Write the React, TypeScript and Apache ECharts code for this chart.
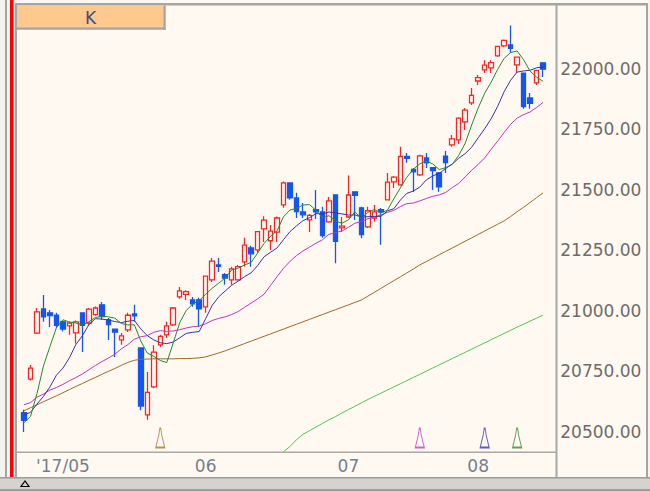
import React, { useEffect, useRef } from "react";
import * as echarts from "echarts";

// Trading days shown (2017)
const dates = [
  "04/21","04/24","04/25","04/26","04/27","04/28",
  "05/01","05/02","05/03","05/04","05/05","05/08","05/09","05/10","05/11","05/12","05/15","05/16","05/17","05/18","05/19","05/22","05/23","05/24","05/25","05/26","05/30","05/31",
  "06/01","06/02","06/05","06/06","06/07","06/08","06/09","06/12","06/13","06/14","06/15","06/16","06/19","06/20","06/21","06/22","06/23","06/26","06/27","06/28","06/29","06/30",
  "07/03","07/05","07/06","07/07","07/10","07/11","07/12","07/13","07/14","07/17","07/18","07/19","07/20","07/21","07/24","07/25","07/26","07/27","07/28","07/31",
  "08/01","08/02","08/03","08/04","08/07","08/08","08/09","08/10","08/11","08/14","08/15",
];

const opens = [
  20580, 20718, 20908, 21008, 20992, 20983, 20955, 20938, 20909, 20992,
  20950, 20985, 21025, 20963, 20925, 20880, 20922, 20988, 20847, 20570,
  20686, 20860, 20901, 20942, 21058, 21068, 21046, 21046, 21017, 21128,
  21190, 21150, 21128, 21128, 21203, 21260, 21252, 21339, 21290, 21326,
  21438, 21529, 21467, 21409, 21376, 21418, 21409, 21368, 21479, 21343,
  21388, 21492, 21426, 21347, 21384, 21418, 21459, 21533, 21521, 21638,
  21585, 21562, 21632, 21592, 21570, 21640, 21686, 21707, 21781, 21860,
  21950, 21996, 22004, 22054, 22095, 22099, 22017, 21983, 21880, 21942,
  22025,
];
const closes = [
  20548, 20764, 20996, 20975, 20981, 20940, 20925, 20950, 20955, 20940,
  21007, 21012, 20976, 20943, 20912, 20897, 20982, 20980, 20607, 20663,
  20830, 20895, 20938, 21012, 21083, 21080, 21029, 21009, 21144, 21206,
  21184, 21136, 21174, 21183, 21272, 21236, 21328, 21375, 21330, 21384,
  21529, 21467, 21410, 21397, 21395, 21409, 21311, 21455, 21287, 21350,
  21479, 21478, 21315, 21414, 21409, 21409, 21532, 21553, 21638, 21630,
  21575, 21641, 21612, 21580, 21513, 21613, 21711, 21797, 21830, 21891,
  21964, 22016, 22026, 22093, 22118, 22085, 22049, 21844, 21858, 21994,
  21999,
];
const highs = [
  20592, 20777, 21012, 21066, 21004, 20992, 20960, 20955, 20960, 20995,
  21012, 21018, 21037, 20971, 20925, 20909, 20992, 21025, 20850, 20748,
  20858, 20901, 20955, 21016, 21099, 21085, 21058, 21054, 21144, 21219,
  21219, 21157, 21182, 21190, 21302, 21269, 21330, 21391, 21355, 21390,
  21535, 21530, 21488, 21446, 21400, 21500, 21430, 21471, 21479, 21388,
  21560, 21492, 21430, 21430, 21438, 21425, 21570, 21558, 21678, 21653,
  21591, 21645, 21653, 21595, 21574, 21661, 21727, 21800, 21839, 21921,
  21975, 22036, 22036, 22095, 22122, 22179, 22050, 21985, 21901, 21996,
  22028,
];
const lows = [
  20500, 20712, 20905, 20955, 20934, 20930, 20915, 20901, 20865, 20830,
  20940, 20980, 20963, 20880, 20810, 20860, 20913, 20955, 20590, 20550,
  20680, 20851, 20888, 20938, 21050, 21045, 21017, 20934, 20992, 21120,
  21161, 21108, 21108, 21125, 21182, 21182, 21240, 21285, 21252, 21285,
  21426, 21459, 21384, 21384, 21326, 21380, 21302, 21364, 21197, 21326,
  21384, 21376, 21300, 21343, 21368, 21273, 21459, 21508, 21517, 21612,
  21492, 21558, 21591, 21500, 21492, 21570, 21678, 21690, 21748, 21851,
  21934, 21983, 21983, 22050, 22091, 22066, 21983, 21835, 21835, 21934,
  21967,
];

// closes of the 19 sessions before the first visible candle (for the moving averages)
const priorCloses = [
  20597, 20551, 20702, 20659, 20728, 20663, 20650, 20689, 20648, 20663,
  20656, 20658, 20651, 20592, 20453, 20637, 20523, 20404, 20579,
];

// long moving averages
const maLongBrown = [
  20587, 20600, 20612, 20625, 20637, 20649, 20662, 20675, 20688, 20700,
  20713, 20725, 20738, 20750, 20762, 20775, 20787, 20796, 20800, 20801,
  20802, 20802, 20802, 20802, 20803, 20803, 20804, 20806, 20810, 20818,
  20826, 20835, 20845, 20855, 20865, 20875, 20885, 20895, 20905, 20915,
  20925, 20935, 20945, 20955, 20965, 20975, 20985, 20995, 21005, 21015,
  21025, 21035, 21045, 21061, 21077, 21093, 21109, 21125, 21141, 21157,
  21173, 21190, 21204, 21218, 21232, 21246, 21260, 21274, 21288, 21302,
  21316, 21330, 21344, 21358, 21372, 21390, 21410, 21428, 21448, 21468,
  21488,
];
const maLongGreen = [
  null, null, null, null, null, null, null, null, null, null,
  null, null, null, null, null, null, null, null, null, null,
  null, null, null, null, null, null, null, null, null, null,
  null, null, null, null, null, null, null, null, null, null,
  20418, 20440, 20468, 20490, 20505, 20520, 20535, 20550, 20563, 20578,
  20592, 20606, 20620, 20634, 20647, 20660, 20673, 20686, 20699, 20712,
  20725, 20738, 20751, 20764, 20777, 20790, 20803, 20816, 20829, 20842,
  20855, 20868, 20881, 20894, 20907, 20920, 20933, 20945, 20958, 20970,
  20983,
];

const tickDates = ["05/01", "06/01", "07/03", "08/01"];
const tickLabels = ["'17/05", "06", "07", "08"];
const yTicks = [20500, 20750, 21000, 21250, 21500, 21750, 22000];

const signalsBrown = ["05/22"];
const signalsMagenta = ["07/19"];
const signalsBlue = ["08/02"];
const signalsGreen = ["08/09"];

const BG = "#FFF9F1";

function sma(n: number): number[] {
  const all = priorCloses.concat(closes);
  const off = priorCloses.length;
  return closes.map((_, i) => {
    let s = 0;
    for (let k = 0; k < n; k++) s += all[off + i - k];
    return Math.round((s / n) * 100) / 100;
  });
}

export default function App() {
  const ref = useRef<HTMLDivElement>(null);
  useEffect(() => {
    if (!ref.current) return;
    const chart = echarts.init(ref.current, null, { renderer: "svg" });
    const signalY = 20475;
    const spire = "path://M4 0 L5 0 L6 7 L9 20 L0 20 L3 7 Z";
    const sig = (list: string[], color: string) => ({
      type: "scatter",
      data: list.map((d) => [d, signalY]),
      symbol: spire,
      symbolSize: [9, 19],
      itemStyle: { color: BG, borderColor: color, borderWidth: 1.3 },
      z: 4,
      silent: true,
    });
    const line = (data: any[], color: string) => ({
      type: "line",
      data,
      showSymbol: false,
      symbol: "none",
      lineStyle: { color, width: 1 },
      z: 3,
      silent: true,
    });
    chart.setOption({
      animation: false,
      backgroundColor: BG,
      grid: { left: 20.76, right: 103.7, top: 6, bottom: 39 },
      xAxis: {
        type: "category",
        data: dates,
        boundaryGap: true,
        axisLine: { show: false },
        axisTick: { show: false },
        splitLine: { show: false },
        axisLabel: {
          interval: (_idx: number, val: string) => tickDates.includes(val),
          formatter: (val: string) => {
            const k = tickDates.indexOf(val);
            return k >= 0 ? tickLabels[k] : "";
          },
          color: "#75808E",
          fontSize: 17,
          fontFamily: "DejaVu Sans",
          margin: 5,
        },
      },
      yAxis: {
        type: "value",
        position: "right",
        min: 20417,
        max: 22260,
        axisLine: { show: false },
        axisTick: { show: false },
        splitLine: { show: false },
        axisLabel: {
          customValues: yTicks,
          formatter: (v: number) => v.toFixed(2),
          color: "#6E6C6A",
          fontSize: 17,
          fontFamily: "DejaVu Sans",
          margin: 14,
        },
      },
      series: [
        {
          type: "candlestick",
          data: opens.map((o, i) => [o, closes[i], lows[i], highs[i]]),
          barWidth: 5,
          itemStyle: {
            color: BG,
            color0: "#1556EE",
            borderColor: "#F02828",
            borderColor0: "#1556EE",
            borderWidth: 1.3,
          },
          z: 2,
          silent: true,
        },
        line(maLongGreen, "#55C255"),
        line(maLongBrown, "#9A6A2A"),
        line(sma(20), "#C035C0"),
        line(sma(10), "#3535A5"),
        line(sma(5), "#2A882A"),
        sig(signalsBrown, "#A87838"),
        sig(signalsMagenta, "#C040C0"),
        sig(signalsBlue, "#3838B0"),
        sig(signalsGreen, "#3A8A3A"),
      ],
      graphic: [
        { type: "rect", z: 50, shape: { x: 0, y: 0, width: 17, height: 491 }, style: { fill: "#F5F3F0" } },
        { type: "rect", z: 51, shape: { x: 5, y: 0, width: 2, height: 491 }, style: { fill: "#A4A4A4" } },
        { type: "rect", z: 51, shape: { x: 10, y: 0, width: 3.5, height: 491 }, style: { fill: "#FF0000" } },
        { type: "rect", z: 51, shape: { x: 15, y: 3, width: 2, height: 475 }, style: { fill: "#A4A4A4" } },
        { type: "rect", z: 51, shape: { x: 15, y: 3, width: 635, height: 2.5 }, style: { fill: "#A4A4A4" } },
        { type: "rect", z: 51, shape: { x: 646, y: 3, width: 2, height: 475 }, style: { fill: "#A4A4A4" } },
        { type: "rect", z: 51, shape: { x: 648, y: 0, width: 2, height: 491 }, style: { fill: "#F5F3F0" } },
        { type: "rect", z: 51, shape: { x: 555.5, y: 5, width: 2, height: 473 }, style: { fill: "#A8A8A8" } },
        { type: "rect", z: 51, shape: { x: 17, y: 451.5, width: 539, height: 1.5 }, style: { fill: "#A8A8A8" } },
        // scroll bar
        { type: "rect", z: 51, shape: { x: 0, y: 478, width: 650, height: 13 }, style: { fill: "#D6D3CE" } },
        { type: "rect", z: 52, shape: { x: 0, y: 477, width: 650, height: 1.5 }, style: { fill: "#9C9C9C" } },
        { type: "rect", z: 52, shape: { x: 0, y: 489, width: 650, height: 2 }, style: { fill: "#9C9C9C" } },
        { type: "polygon", z: 53, shape: { points: [[21, 486.5], [29, 486.5], [25, 481]] }, style: { fill: "#D6D3CE", stroke: "#000000", lineWidth: 1.2 } },
        // "K" tab
        { type: "rect", z: 60, shape: { x: 17, y: 5.5, width: 147, height: 22.5 }, style: { fill: "#FFC88C" } },
        { type: "rect", z: 61, shape: { x: 163.5, y: 5.5, width: 2.2, height: 24.5 }, style: { fill: "#A4A4A4" } },
        { type: "rect", z: 61, shape: { x: 17, y: 27.5, width: 148.7, height: 2.2 }, style: { fill: "#A4A4A4" } },
        { type: "text", z: 62, style: { text: "K", x: 90.5, y: 17.5, fill: "#3C4E82", font: "17px 'DejaVu Sans'", textAlign: "center", textVerticalAlign: "middle" } },
      ],
    });
    return () => chart.dispose();
  }, []);
  return <div ref={ref} style={{ position: "fixed", left: 0, top: 0, width: 650, height: 491 }} />;
}
